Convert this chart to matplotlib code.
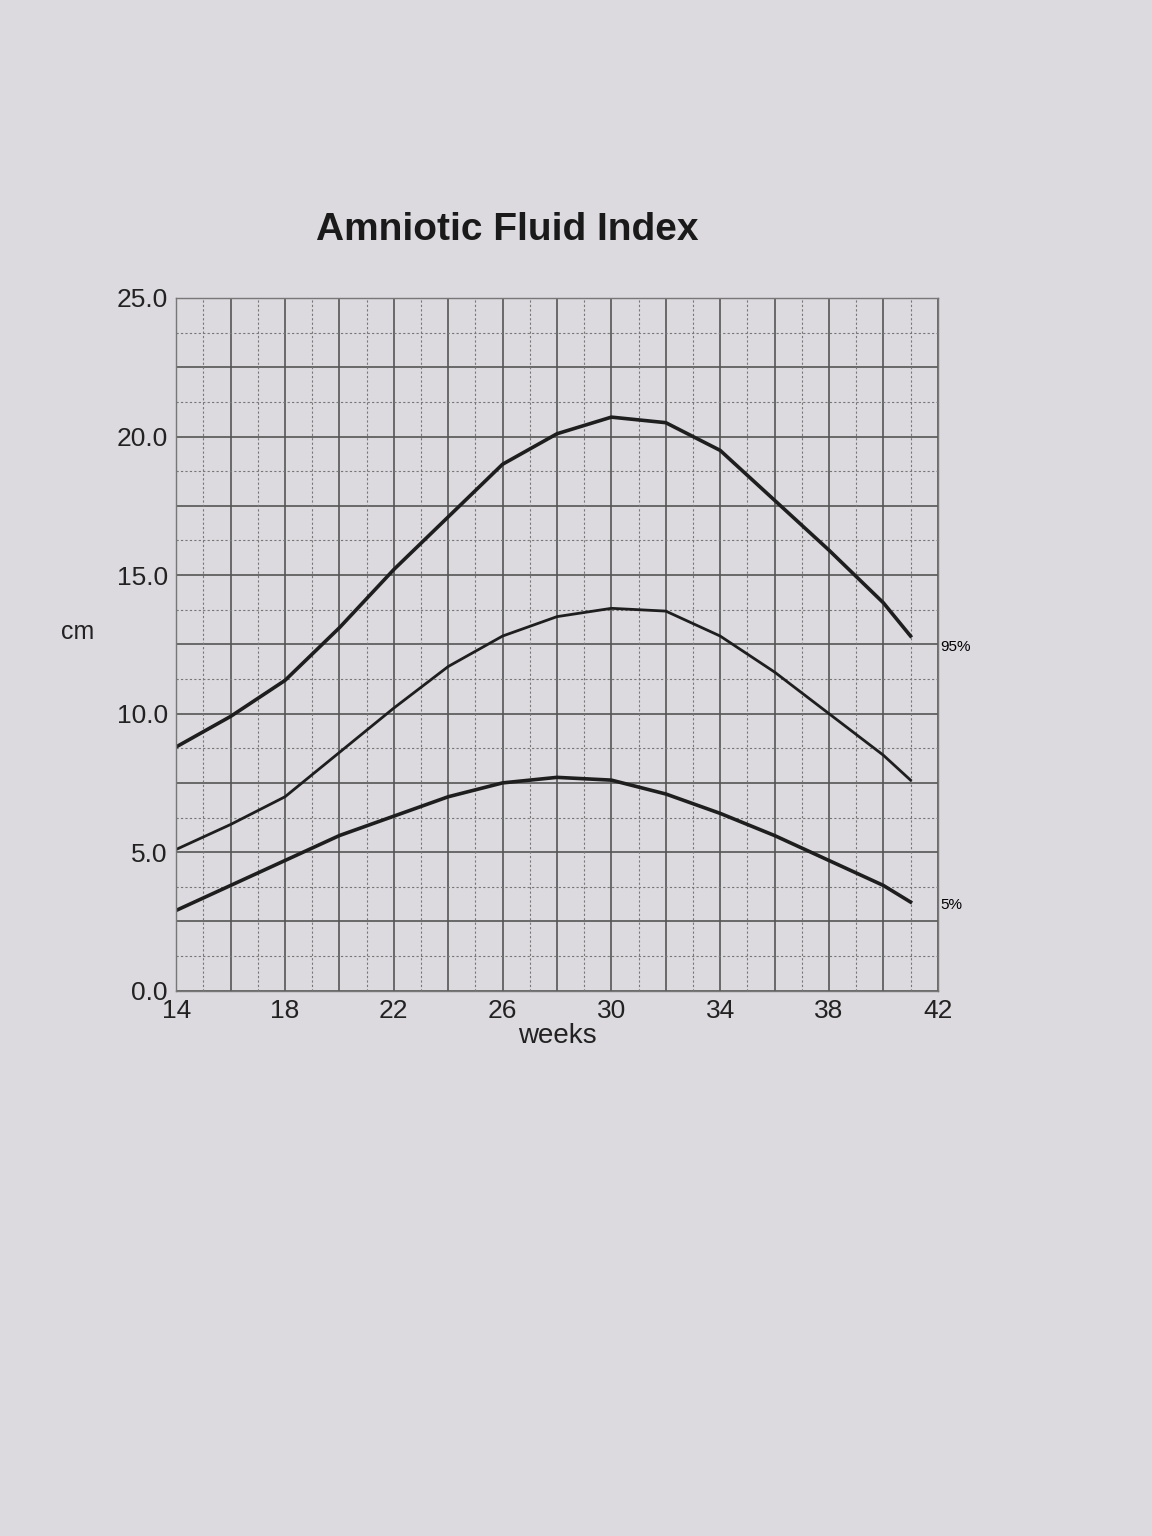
import matplotlib
matplotlib.use("Agg")
import matplotlib.pyplot as plt
import numpy as np

plt.rcParams['font.family'] = ['Liberation Sans', 'DejaVu Sans']

weeks = [14, 16, 18, 20, 22, 24, 26, 28, 30, 32, 34, 36, 38, 40, 41]
p95 = [8.8, 9.9, 11.2, 13.1, 15.2, 17.1, 19.0, 20.1, 20.7, 20.5, 19.5, 17.7, 15.9, 14.0, 12.8]
p50 = [5.1, 6.0, 7.0, 8.6, 10.2, 11.7, 12.8, 13.5, 13.8, 13.7, 12.8, 11.5, 10.0, 8.5, 7.6]
p5 = [2.9, 3.8, 4.7, 5.6, 6.3, 7.0, 7.5, 7.7, 7.6, 7.1, 6.4, 5.6, 4.7, 3.8, 3.2]

bg = "#dcd9df"
fig = plt.figure(figsize=(11.52, 15.36), dpi=100, facecolor=bg)
ax = fig.add_axes([0.153, 0.355, 0.661, 0.451], facecolor=bg)
ax.set_xlim(14, 42)
ax.set_ylim(0, 25)
ax.set_xticks(np.arange(14, 43, 4))
ax.set_xticks(np.arange(14, 43, 2), minor=True)
ax.set_yticks(np.arange(0, 25.1, 5))
ax.set_yticks(np.arange(0, 25.1, 2.5), minor=True)
ax.set_yticklabels([f"{v:.1f}" for v in np.arange(0, 25.1, 5)])
ax.grid(which="both", color="#555", lw=1.2)
for v in np.arange(15, 42, 2):
    ax.axvline(v, color="#777", lw=0.8, ls=(0, (2, 2)))
for v in np.arange(1.25, 25, 2.5):
    ax.axhline(v, color="#777", lw=0.8, ls=(0, (2, 2)))
for s in ax.spines.values():
    s.set_color("#777")
    s.set_linewidth(1)
ax.tick_params(which="both", length=0, labelsize=19, colors="#222", pad=6)
for lbl, data, lw in [("95%", p95, 2.6), ("50%", p50, 2.0), ("5%", p5, 2.6)]:
    ax.plot(weeks, data, color="#1e1e1e", lw=lw, solid_joinstyle="round")
ax.text(42.1, p95[-1] - 0.4, "95%", fontsize=11, va="center", clip_on=False)
ax.text(42.1, p5[-1] - 0.1, "5%", fontsize=11, va="center", clip_on=False)
ax.set_xlabel("weeks", fontsize=20, color="#222", labelpad=0)
ax.set_ylabel("cm", fontsize=18, color="#222", rotation=0, labelpad=30)
ax.yaxis.set_label_coords(-0.13, 0.5)
fig.text(0.44, 0.85, "Amniotic Fluid Index", fontsize=28, fontweight="bold",
         ha="center", va="center", color="#1a1a1a")
fig.savefig("out.png", dpi=100, facecolor=bg)
